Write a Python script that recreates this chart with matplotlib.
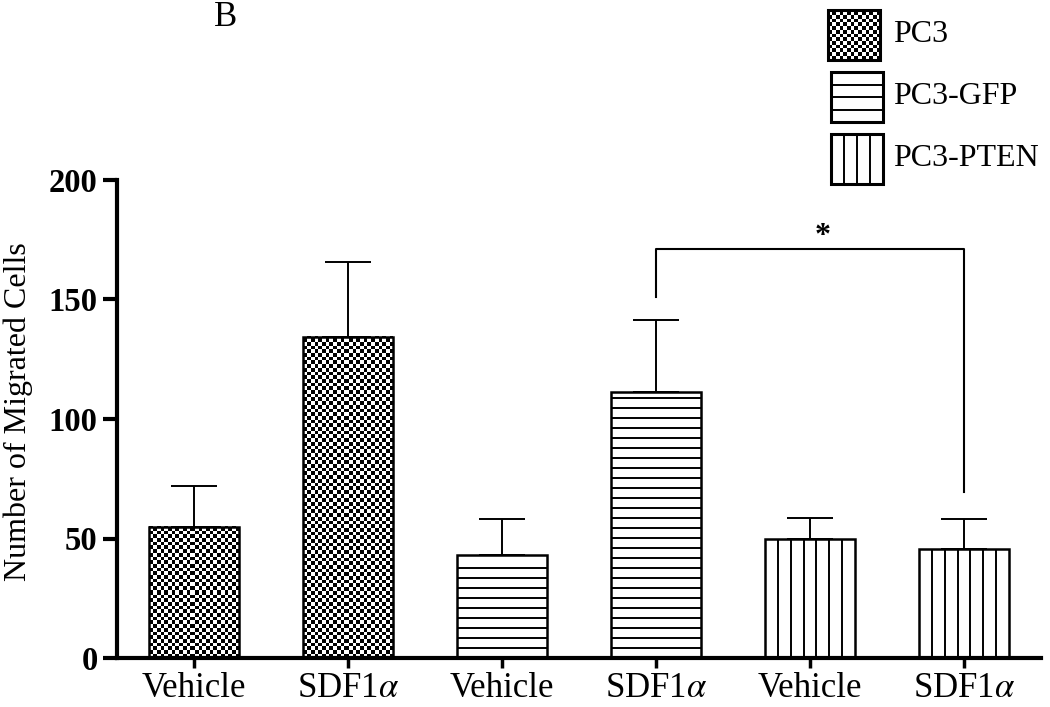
import numpy as np
import matplotlib
matplotlib.use("Agg")
import matplotlib.pyplot as plt
from matplotlib.patches import Rectangle

plt.rcParams["font.family"] = ["Liberation Serif", "DejaVu Serif"]
plt.rcParams["mathtext.fontset"] = "stix"

labels = ["Vehicle", "SDF1$\\alpha$", "Vehicle", "SDF1$\\alpha$", "Vehicle", "SDF1$\\alpha$"]
means = [55, 134.5, 43, 111.5, 50, 45.5]
sems = [17, 31, 15, 30, 8.5, 12.5]
groups = ["PC3", "PC3", "PC3-GFP", "PC3-GFP", "PC3-PTEN", "PC3-PTEN"]
legend_names = ["PC3", "PC3-GFP", "PC3-PTEN"]
patterns = {"PC3": "checker", "PC3-GFP": "hlines", "PC3-PTEN": "vlines"}

W, H, DPI = 10.5, 7.07, 100
fig = plt.figure(figsize=(W, H), dpi=DPI)
ax = fig.add_axes([117 / 1050, 49 / 707, 924 / 1050, 478 / 707])
xmin, xmax, ymax = -0.5, 5.5, 200
px_x = 924 / (xmax - xmin)   # pixels per x unit
px_y = 478 / ymax            # pixels per y unit
width = 0.58


def fill_pattern(a, kind, x0, y0, w, h, pxx, pxy, hstep=10, nv=7):
    if kind == "checker":
        nx, ny = int(round(w * pxx)), int(round(h * pxy))
        ii, jj = np.mgrid[0:ny, 0:nx]
        cell = 3.7
        arr = ((ii // cell + jj // cell) % 2)
        a.imshow(arr, cmap="gray_r", vmin=0, vmax=1, extent=(x0, x0 + w, y0, y0 + h),
                 origin="lower", interpolation="nearest", aspect="auto", zorder=2)
    elif kind == "hlines":
        step = hstep / pxy
        ys = np.arange(y0 + step, y0 + h - step * 0.4, step)
        a.hlines(ys, x0, x0 + w, colors="black", lw=1.4, zorder=2)
    else:
        xs = x0 + np.arange(1, nv) * w / nv
        a.vlines(xs, y0, y0 + h, colors="black", lw=1.4, zorder=2)


x = np.arange(len(means))
ax.bar(x, means, width=width, color="white", edgecolor="none", zorder=1)
for xi, m, g in zip(x, means, groups):
    fill_pattern(ax, patterns[g], xi - width / 2, 0, width, m, px_x, px_y)
ax.bar(x, means, width=width, facecolor="none", edgecolor="black", lw=1.8, zorder=3)
ax.errorbar(x, means, yerr=[np.zeros(len(sems)), sems], fmt="none", ecolor="black",
            elinewidth=1.4, capsize=16.5, capthick=1.4, zorder=4)

# significance bracket
ax.plot([3, 3, 5, 5], [151, 171, 171, 69.5], color="black", lw=1.5, zorder=4)
ax.text(4.08, 176.5, "*", ha="center", va="center", fontsize=23, fontweight="bold")

ax.set_xlim(xmin, xmax)
ax.set_ylim(0, ymax)
ax.set_yticks([0, 50, 100, 150, 200])
ax.set_xticks(x)
ax.set_xticklabels(labels, fontsize=25)
for t in ax.get_yticklabels():
    t.set_fontweight("bold")
    t.set_fontsize(23.5)
ax.tick_params(axis="y", direction="out", length=10, width=3, pad=4)
ax.tick_params(axis="x", direction="out", length=7, width=2.5, pad=3)
for s in ["top", "right"]:
    ax.spines[s].set_visible(False)
for s in ["left", "bottom"]:
    ax.spines[s].set_linewidth(3)
ax.set_ylabel("Number of Migrated Cells", fontsize=23)
ax.yaxis.set_label_coords(-0.091, 0.515)

fig.text(226 / 1050, 1 - 18 / 707, "B", ha="center", va="center", fontsize=25)

# legend drawn by hand
sw_left = [828, 831, 831]
sw_top = [10, 72, 134]
for name, lx, ty in zip(legend_names, sw_left, sw_top):
    lax = fig.add_axes([lx / 1050, 1 - (ty + 50) / 707, 52 / 1050, 50 / 707])
    lax.set_xlim(0, 1)
    lax.set_ylim(0, 1)
    lax.axis("off")
    fill_pattern(lax, patterns[name], 0, 0, 1, 1, 52, 50, hstep=12.5, nv=4)
    lax.set_xlim(0, 1)
    lax.set_ylim(0, 1)
    lax.add_patch(Rectangle((0, 0), 1, 1, facecolor="none", edgecolor="black",
                            lw=2.2, zorder=3, clip_on=False))
    fig.text(893 / 1050, 1 - (ty + 25) / 707, name, ha="left", va="center", fontsize=23)

fig.savefig("out.png", dpi=DPI)
